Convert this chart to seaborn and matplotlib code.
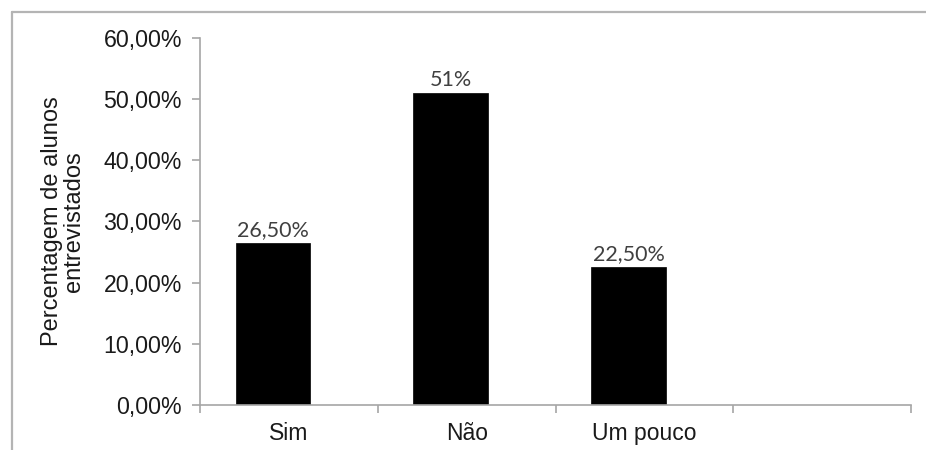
import matplotlib
matplotlib.use("Agg")
import matplotlib.pyplot as plt
import matplotlib.lines as mlines
from matplotlib.ticker import FixedLocator, FuncFormatter
import seaborn as sns
import pandas as pd

# Survey answers and share of interviewed students (%)
categories = ["Sim", "Não", "Um pouco", ""]
values = [26.5, 51.0, 22.5, None]
value_labels = ["26,50%", "51%", "22,50%", ""]
y_ticks = [0, 10, 20, 30, 40, 50, 60]

df = pd.DataFrame({"resposta": categories, "pct": values})

sns.set_theme(style="white")
plt.rcParams["font.family"] = ["Liberation Sans", "DejaVu Sans"]

fig = plt.figure(figsize=(9.26, 4.5), dpi=100)
ax = fig.add_axes([0.216, 0.1, 0.768, 0.816])

sns.barplot(data=df, x="resposta", y="pct", order=categories, color="black",
            width=0.42, edgecolor="black", linewidth=0.5, ax=ax)

# bars sit slightly left of the category centre
shift = 0.09
for p in ax.patches:
    p.set_x(p.get_x() - shift)

# value labels above bars
for p, lab in zip(ax.patches, value_labels):
    h = p.get_height()
    if lab and h == h:
        ax.annotate(lab, (p.get_x() + p.get_width() / 2, h),
                    xytext=(0, 2), textcoords="offset points",
                    ha="center", va="bottom", fontsize=15.5,
                    family=["Lato", "DejaVu Sans"], color="#404040")

ax.set_xlim(-0.5, 3.5)
ax.set_ylim(0, 60)
ax.yaxis.set_major_locator(FixedLocator(y_ticks))
ax.yaxis.set_major_formatter(FuncFormatter(lambda v, _: f"{v:.2f}".replace(".", ",") + "%"))

spine_col = "#a6a6a6"
for s in ["top", "right"]:
    ax.spines[s].set_visible(False)
for s in ["left", "bottom"]:
    ax.spines[s].set_color(spine_col)
    ax.spines[s].set_linewidth(1.2)

ax.tick_params(axis="y", which="major", direction="out", length=6, width=1.2,
               color=spine_col, labelsize=16.7, labelcolor="#1a1a1a", pad=7, left=True)
ax.set_xticks(range(len(categories)))
ax.set_xticklabels(categories)
ax.set_xticks([-0.5, 0.5, 1.5, 2.5, 3.5], minor=True)
ax.tick_params(axis="x", which="major", length=0, labelsize=16.5, labelcolor="#1a1a1a", pad=12)
ax.tick_params(axis="x", which="minor", direction="out", length=6, width=1.2,
               color=spine_col, bottom=True)

ax.set_xlabel("")
ax.set_ylabel("Percentagem de alunos\nentrevistados", fontsize=17, color="#1a1a1a",
              labelpad=13, linespacing=1.0)

# light frame around the chart area
frame_col = "#b4b4b4"
fig.add_artist(mlines.Line2D([12 / 926, 12 / 926], [0, 1 - 12 / 450],
                             transform=fig.transFigure, color=frame_col, lw=1.6))
fig.add_artist(mlines.Line2D([12 / 926, 1], [1 - 12 / 450, 1 - 12 / 450],
                             transform=fig.transFigure, color=frame_col, lw=1.6))

fig.savefig("out.png", dpi=100)
